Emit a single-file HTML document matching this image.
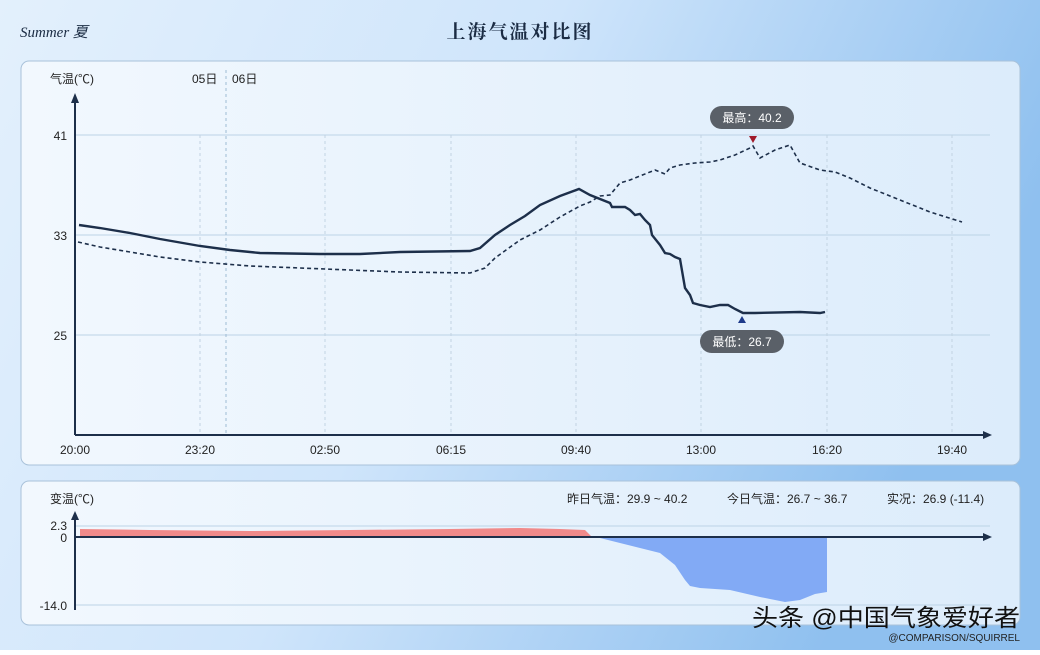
<!DOCTYPE html>
<html><head><meta charset="utf-8"><style>
body{margin:0;width:1040px;height:650px;overflow:hidden;font-family:"Liberation Sans","Noto Sans CJK SC",sans-serif;}
</style></head><body>
<svg width="1040" height="650" xmlns="http://www.w3.org/2000/svg" font-family="Liberation Sans, Noto Sans CJK SC, sans-serif">
<defs>
<linearGradient id="bg" x1="0" y1="0" x2="1" y2="0.3">
<stop offset="0" stop-color="#e3f0fc"/><stop offset="0.5" stop-color="#cfe5fb"/><stop offset="1" stop-color="#8fc0ef"/></linearGradient>
<linearGradient id="pn" x1="0" y1="0" x2="1" y2="0">
<stop offset="0" stop-color="#f2f8fe"/><stop offset="1" stop-color="#dcecfb"/></linearGradient>
</defs>
<rect width="1040" height="650" fill="url(#bg)"/>
<text x="20" y="37" font-family="Liberation Serif, serif" font-style="italic" font-size="15" fill="#1b2c44">Summer 夏</text>
<text x="520" y="38" text-anchor="middle" font-family="Noto Serif CJK SC, serif" font-weight="bold" font-size="19" fill="#1b2c44" letter-spacing="2">上海气温对比图</text>
<rect x="21" y="61" width="999" height="404" rx="8" fill="url(#pn)" stroke="#a9c2da"/>
<rect x="21" y="481" width="999" height="144" rx="8" fill="url(#pn)" stroke="#a9c2da"/>
<g stroke="#bcd3e6" stroke-width="1">
<line x1="75" y1="135" x2="990" y2="135"/><line x1="75" y1="235" x2="990" y2="235"/><line x1="75" y1="335" x2="990" y2="335"/>
<line x1="75" y1="526" x2="990" y2="526"/><line x1="75" y1="605" x2="990" y2="605"/>
</g>
<g stroke="#c2d3e2" stroke-dasharray="3,3">
<line x1="200" y1="135" x2="200" y2="435"/><line x1="325" y1="135" x2="325" y2="435"/><line x1="451" y1="135" x2="451" y2="435"/><line x1="576" y1="135" x2="576" y2="435"/><line x1="701" y1="135" x2="701" y2="435"/><line x1="827" y1="135" x2="827" y2="435"/><line x1="952" y1="135" x2="952" y2="435"/>
</g>
<line x1="226" y1="70" x2="226" y2="435" stroke="#9fbcd4" stroke-dasharray="3,3"/>
<g font-size="12" fill="#222">
<text x="50" y="83">气温(℃)</text><text x="192" y="83">05日</text><text x="232" y="83">06日</text>
<text x="67" y="140" text-anchor="end">41</text><text x="67" y="240" text-anchor="end">33</text><text x="67" y="340" text-anchor="end">25</text>
<text x="75" y="454" text-anchor="middle">20:00</text><text x="200" y="454" text-anchor="middle">23:20</text><text x="325" y="454" text-anchor="middle">02:50</text><text x="451" y="454" text-anchor="middle">06:15</text><text x="576" y="454" text-anchor="middle">09:40</text><text x="701" y="454" text-anchor="middle">13:00</text><text x="827" y="454" text-anchor="middle">16:20</text><text x="952" y="454" text-anchor="middle">19:40</text>
<text x="50" y="503">变温(℃)</text>
<text x="67" y="530" text-anchor="end">2.3</text><text x="67" y="542" text-anchor="end">0</text><text x="67" y="610" text-anchor="end">-14.0</text>
<text x="567" y="503">昨日气温：29.9 ~ 40.2</text><text x="727" y="503">今日气温：26.7 ~ 36.7</text><text x="887" y="503">实况：26.9 (-11.4)</text>
</g>
<polyline fill="none" stroke="#1d2f4a" stroke-width="1.6" stroke-dasharray="4,3" points="78,242 100,247 130,252 160,257 200,262 250,266 300,268 350,270 400,272 470,273 485,268 495,258 520,240 540,230 560,217 580,206 590,202 600,196 610,195 620,183 630,180 640,176 655,170 665,174 670,168 680,165 695,163 710,162 720,160 735,155 750,148 753,146 760,158 775,150 790,145 800,163 820,170 835,172 850,178 870,188 900,200 930,212 962,222"/>
<polyline fill="none" stroke="#1d2f4a" stroke-width="2.4" points="79,225 100,228 130,233 160,239 200,246 230,250 260,253 320,254 360,254 400,252 470,251 480,248 495,235 510,225 525,216 540,205 560,196 579,189 590,195 610,203 612,207 625,207 630,210 635,215 640,214 645,220 650,225 652,235 660,245 665,253 670,254 675,257 680,259 685,288 690,295 693,303 700,305 710,307 720,305 728,305 735,309 743,313 755,313 800,312 820,313 825,312"/>
<g fill="#1d2f4a">
<line x1="75" y1="435" x2="985" y2="435" stroke="#1d2f4a" stroke-width="2"/><polygon points="992,435 983,431 983,439"/>
<line x1="75" y1="435" x2="75" y2="100" stroke="#1d2f4a" stroke-width="2"/><polygon points="75,93 71,103 79,103"/>
</g>
<polygon points="753,143 749,136 757,136" fill="#a01a2a"/>
<polygon points="742,316 738,323 746,323" fill="#1d3a8a"/>
<rect x="710" y="106" width="84" height="23" rx="11.5" fill="#5a6068"/>
<text x="752" y="122" text-anchor="middle" font-size="12" fill="#fff">最高：40.2</text>
<rect x="700" y="330" width="84" height="23" rx="11.5" fill="#5a6068"/>
<text x="742" y="346" text-anchor="middle" font-size="12" fill="#fff">最低：26.7</text>
<polygon fill="#f08a8a" points="80,537 80,529 150,530 250,531 350,530 450,529 520,528 560,529 585,530 592,537"/>
<polygon fill="#82aaf5" points="590,537 600,538 620,543 640,548 660,553 675,565 685,580 690,586 700,588 730,590 760,597 785,602 800,600 815,594 827,592 827,537"/>
<g fill="#1d2f4a">
<line x1="75" y1="537" x2="985" y2="537" stroke="#1d2f4a" stroke-width="2"/><polygon points="992,537 983,533 983,541"/>
<line x1="75" y1="537" x2="75" y2="518" stroke="#1d2f4a" stroke-width="2"/><line x1="75" y1="537" x2="75" y2="610" stroke="#1d2f4a" stroke-width="2"/><polygon points="75,511 71,520 79,520"/>
</g>
<text x="752" y="626" font-size="24" fill="#111" textLength="268" lengthAdjust="spacingAndGlyphs">头条 @中国气象爱好者</text>
<text x="1020" y="641" text-anchor="end" font-size="10" fill="#222">@COMPARISON/SQUIRREL</text>
</svg>
</body></html>
